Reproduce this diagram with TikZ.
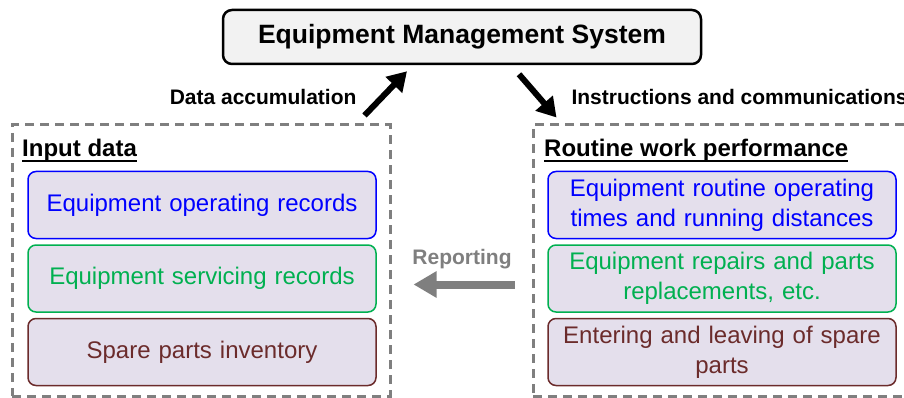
\documentclass[tikz,border=0pt]{standalone}
\usepackage{fontspec}
\setmainfont{Liberation Sans}
\usetikzlibrary{positioning,arrows.meta}
\definecolor{boxfill}{HTML}{E4DFEC}
\definecolor{titlefill}{HTML}{F2F2F2}
\definecolor{opblue}{HTML}{0000FF}
\definecolor{svgreen}{HTML}{00B050}
\definecolor{partred}{HTML}{6B2B2B}
\definecolor{dashgray}{HTML}{7F7F7F}
\tikzstyle{system} = [rectangle, draw, rounded corners=9pt, line width=2.5pt,
    fill=titlefill, minimum width=478pt, minimum height=54pt,
    font=\fontsize{26.5}{30}\selectfont\bfseries]
\tikzstyle{groupbox} = [rectangle, draw=dashgray, line width=3pt,
    dash pattern=on 9pt off 6pt, minimum height=271pt]
\tikzstyle{heading} = [anchor=base west, inner sep=0pt,
    font=\fontsize{24}{28}\selectfont\bfseries]
\tikzstyle{underbar} = [draw, line width=2.2pt]
\tikzstyle{item} = [rectangle, draw, rounded corners=8pt, line width=1.5pt,
    fill=boxfill, text width=330pt, align=center, minimum width=348pt,
    minimum height=67pt, font=\fontsize{24}{30}\selectfont]
\tikzstyle{flowlabel} = [font=\fontsize{21}{24}\selectfont\bfseries]
\tikzstyle{flow} = [draw, line width=6pt, -{Triangle[length=19pt,width=22pt]}]
\tikzstyle{report} = [draw=dashgray, line width=8pt, -{Triangle[length=23pt,width=25pt]}]

\begin{document}
\begin{tikzpicture}[x=1pt, y=-1pt]
    \useasboundingbox (0,0) rectangle (904,398);
    % Place nodes
    \node [system] (ems) at (462,37) {Equipment Management System};
    \node [groupbox, minimum width=378pt] (inputs) at (201,260.5) {};
    \node [groupbox, minimum width=380pt] (routine) at (723,260.5) {};
    \node [heading] (inhead) at (22,157) {Input data};
    \node [heading] (rwhead) at (544,157) {Routine work performance};
    \node [item, draw=opblue, text=opblue] (oprec) at (202,205) {Equipment operating records};
    \node [item, draw=svgreen, text=svgreen, below=5pt of oprec] (svrec) {Equipment servicing records};
    \node [item, draw=partred, text=partred, below=5pt of svrec] (stock) {Spare parts inventory};
    \node [item, draw=opblue, text=opblue] (optimes) at (722,205) {Equipment routine operating\\times and running distances};
    \node [item, draw=svgreen, text=svgreen, below=5pt of optimes] (repairs) {Equipment repairs and parts\\replacements, etc.};
    \node [item, draw=partred, text=partred, below=5pt of repairs] (inout) {Entering and leaving of spare\\parts};
    % Labels
    \node [flowlabel, anchor=east] (acclabel) at (360,97) {Data accumulation};
    \node [flowlabel, anchor=west] (inslabel) at (568,97) {Instructions and communications};
    \node [flowlabel, text=dashgray] (replabel) at (462,259) {Reporting};
    % Underlines of the headings
    \path [underbar] ([yshift=-4pt]inhead.base west) -- ([yshift=-4pt]inhead.base east);
    \path [underbar] ([yshift=-4pt]rwhead.base west) -- ([yshift=-4pt]rwhead.base east);
    % Arrow ends
    \coordinate (accfoot) at ([xshift=-27pt,yshift=8pt]inputs.north east);
    \coordinate (acctip) at ([xshift=-55pt,yshift=-6pt]ems.south);
    \coordinate (insfoot) at ([xshift=57pt,yshift=-9pt]ems.south);
    \coordinate (instip) at ([xshift=25pt,yshift=6pt]routine.north west);
    \coordinate (repfoot) at ([xshift=-17pt,yshift=-24pt]routine.west);
    \coordinate (reptip) at ([xshift=22pt,yshift=-24pt]inputs.east);
    % Draw edges
    \path [flow] (accfoot) -- (acctip);
    \path [flow] (insfoot) -- (instip);
    \path [report] (repfoot) -- (reptip);
\end{tikzpicture}
\end{document}
